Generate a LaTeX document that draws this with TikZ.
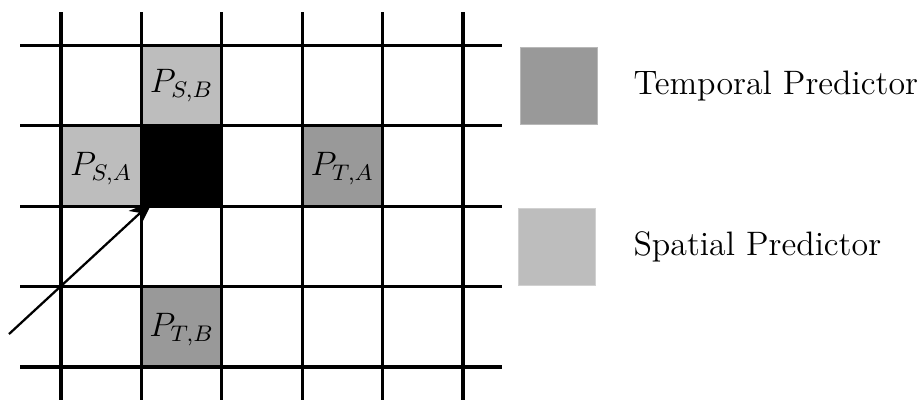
\documentclass[tikz,border=0pt]{standalone}
\usetikzlibrary{arrows.meta}
\definecolor{spat}{HTML}{BDBDBD}
\definecolor{temp}{HTML}{999999}
\begin{document}
\begin{tikzpicture}[x=1cm,y=1cm,
  gridline/.style={line width=1.1pt,black},
  cellspat/.style={fill=spat,draw=spat!85!black,line width=0.4pt},
  celltemp/.style={fill=temp,draw=temp!85!black,line width=0.4pt},
  lab/.style={font=\large,inner sep=0pt},
  legtxt/.style={font=\large,anchor=west,inner sep=0pt}]
\useasboundingbox (-0.759,-0.41) rectangle (10.709,4.565);
% coloured cells
\draw[cellspat] (1,3) rectangle (2,4);
\draw[cellspat] (0,2) rectangle (1,3);
\fill[black] (1,2) rectangle (2,3);
\draw[celltemp] (3,2) rectangle (4,3);
\draw[celltemp] (1,0) rectangle (2,1);
% grid
\foreach \i in {0,...,5} \draw[gridline] (\i,-0.41) -- (\i,4.41);
\foreach \j in {0,...,4} \draw[gridline] (-0.51,\j) -- (5.49,\j);
% labels
\node[lab] (psb) at (1.5,3.5) {$P_{S,B}$};
\node[lab] (psa) at (0.5,2.47) {$P_{S,A}$};
\node[lab] (pta) at (3.5,2.47) {$P_{T,A}$};
\node[lab] (ptb) at (1.5,0.47) {$P_{T,B}$};
% arrow
\coordinate (astart) at (-0.647,0.41);
\coordinate (atip) at (1.14,2.06);
\draw[line width=0.8pt,-{Stealth[length=8.5pt,width=6.5pt,inset=2.5pt]}] (astart) -- (atip);
% legend
\draw[fill=temp,draw=temp!70!white,line width=0.3pt] (5.715,3.022) rectangle (6.67,3.976);
\draw[fill=spat,draw=spat!70!white,line width=0.3pt] (5.69,1.016) rectangle (6.645,1.969);
\node[legtxt] (lt) at (7.114,3.5) {Temporal Predictor};
\node[legtxt] (ls) at (7.114,1.49) {Spatial Predictor};
\end{tikzpicture}
\end{document}
